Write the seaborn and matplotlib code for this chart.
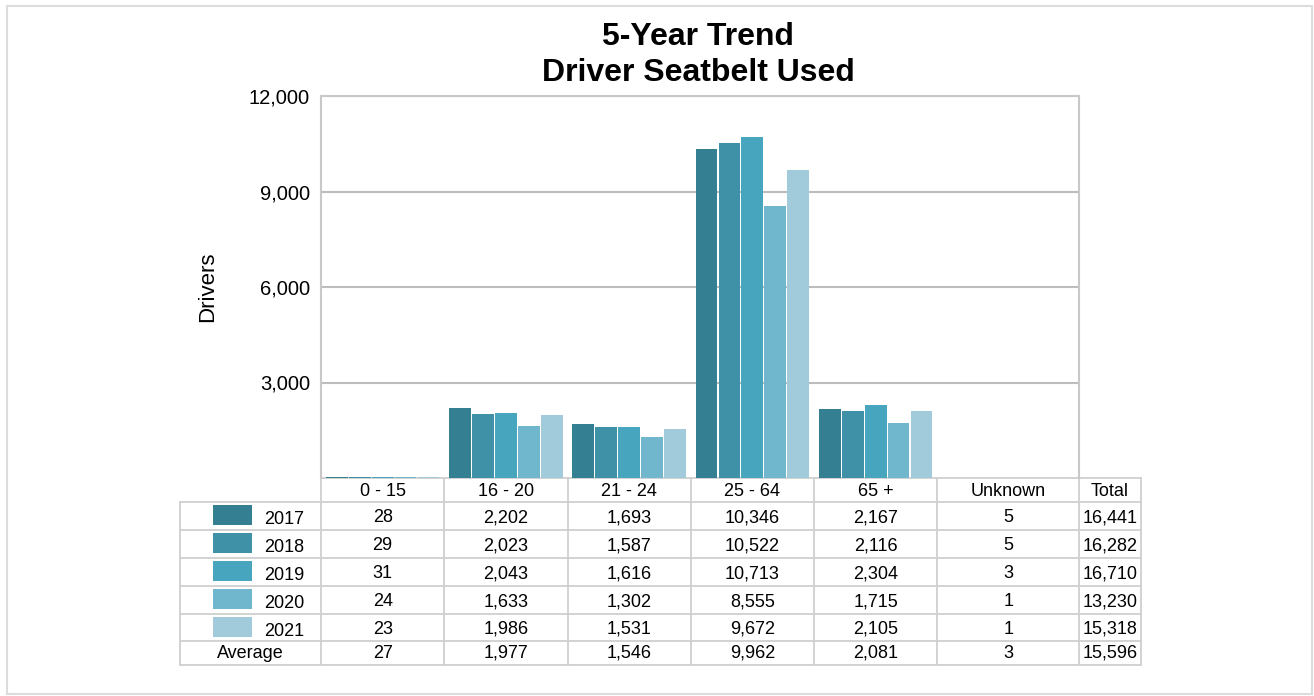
import matplotlib.pyplot as plt
import pandas as pd
import seaborn as sns
from matplotlib.patches import Rectangle
from matplotlib.lines import Line2D

# data
categories = ['0 - 15', '16 - 20', '21 - 24', '25 - 64', '65 +', 'Unknown']
years = ['2017', '2018', '2019', '2020', '2021']
v2017 = [28, 2202, 1693, 10346, 2167, 5]
v2018 = [29, 2023, 1587, 10522, 2116, 5]
v2019 = [31, 2043, 1616, 10713, 2304, 3]
v2020 = [24, 1633, 1302, 8555, 1715, 1]
v2021 = [23, 1986, 1531, 9672, 2105, 1]
average = [27, 1977, 1546, 9962, 2081, 3]
totals = [16441, 16282, 16710, 13230, 15318, 15596]
colors = ['#357f92', '#3f91a8', '#47a5bd', '#70b6cc', '#a1cadb']

series = [v2017, v2018, v2019, v2020, v2021]
rows = []
for yr, vals in zip(years, series):
    for cat, v in zip(categories, vals):
        rows.append({'category': cat, 'year': yr, 'value': v})
df = pd.DataFrame(rows)

sns.set_style('white')
plt.rcParams['font.family'] = ['Liberation Sans', 'DejaVu Sans']
plt.rcParams['text.color'] = 'black'
plt.rcParams['axes.labelcolor'] = 'black'
plt.rcParams['ytick.color'] = 'black'

W, H = 1314, 696
fig = plt.figure(figsize=(W / 100, H / 100), dpi=100)

# full figure overlay in pixel coords (y down) for table / frame
ov = fig.add_axes([0, 0, 1, 1], zorder=0)
ov.set_xlim(0, W)
ov.set_ylim(H, 0)
ov.axis('off')

ax = fig.add_axes([321 / W, (H - 478) / H, (1079 - 321) / W, (478 - 96) / H], zorder=1)
ax.patch.set_alpha(0)
sns.barplot(data=df, x='category', y='value', hue='year', order=categories,
            hue_order=years, palette=colors, saturation=1, width=0.93, gap=0.05,
            linewidth=0, legend=False, ax=ax, zorder=3)
ax.set_xlim(-0.5, 5.65)
ax.set_ylim(0, 12000)
ax.set_yticks([3000, 6000, 9000, 12000])
ax.set_yticklabels([f'{t:,}' for t in [3000, 6000, 9000, 12000]], fontsize=14.5)
ax.tick_params(axis='y', length=0, pad=8)
ax.set_xticks([])
ax.set_xlabel('')
ax.set_ylabel('Drivers', fontsize=16, labelpad=22)
ax.grid(axis='y', color='#bdbdbd', linewidth=1.5, zorder=0)
for s in ['left', 'top', 'right']:
    ax.spines[s].set_color('#c8c8c8')
    ax.spines[s].set_linewidth(1.5)
ax.spines['bottom'].set_visible(False)

# title
fig.text(698 / W, 1 - 37 / H, '5-Year Trend', ha='center', va='center',
         fontsize=23, fontweight='bold')
fig.text(698 / W, 1 - 73 / H, 'Driver Seatbelt Used', ha='center', va='center',
         fontsize=23, fontweight='bold')

# outer frame
ov.add_patch(Rectangle((7, 6), 1305, 688, fill=False, edgecolor='#dcdcdc', linewidth=1.5))

# table built from the data, columns aligned with the axes categories
def px(xd):
    return ax.transData.transform((xd, 0))[0]

edges = [px(i - 0.5) for i in range(len(categories))] + [px(5.65), 1141]
left_edge = 180
row_tops = [478, 502, 530, 558, 586, 614, 641, 665]
line_c = '#cfcfcf'
lw = 1.3
fs = 13

# header row
ov.add_line(Line2D([edges[0], edges[-1]], [478, 478], color=line_c, lw=lw))
for i, lab in enumerate(categories + ['Total']):
    cx = (edges[i] + edges[i + 1]) / 2
    ov.text(cx, 491, lab, ha='center', va='center', fontsize=fs)
# horizontal lines
for y in row_tops[1:]:
    ov.add_line(Line2D([left_edge, edges[-1]], [y, y], color=line_c, lw=lw))
# vertical lines
for x in edges:
    ov.add_line(Line2D([x, x], [478, 665], color=line_c, lw=lw))
ov.add_line(Line2D([left_edge, left_edge], [502, 665], color=line_c, lw=lw))

body = [series[k] + [totals[k]] for k in range(len(years))] + [average + [totals[-1]]]
labels = years + ['Average']
for r, (lab, vals) in enumerate(zip(labels, body)):
    top, bot = row_tops[r + 1], row_tops[r + 2]
    cy = (top + bot) / 2
    if r < len(years):
        ov.add_patch(Rectangle((213, top + 3), 39, 20, color=colors[r], lw=0))
        ov.text(264, cy + 4, lab, ha='left', va='center', fontsize=fs)
        cy += 2
    else:
        ov.text(250, cy, lab, ha='center', va='center', fontsize=fs)
    for i, v in enumerate(vals):
        cx = (edges[i] + edges[i + 1]) / 2
        ov.text(cx, cy, f'{v:,}', ha='center', va='center', fontsize=fs)

fig.savefig('out.png', dpi=100)
